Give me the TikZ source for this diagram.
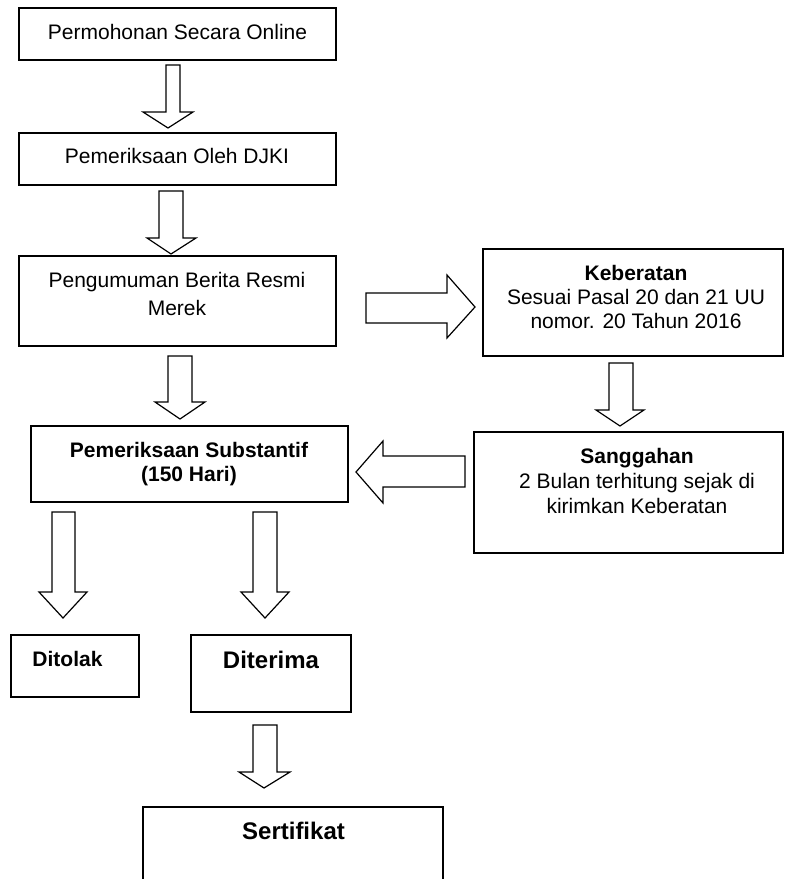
\documentclass[tikz,border=0pt]{standalone}
\usepackage{fontspec}
\setmainfont{Liberation Sans}
\begin{document}
\begin{tikzpicture}[x=1pt,y=-1pt,
  box/.style={draw=black,line width=1.2pt,inner sep=0pt},
  txt/.style={inner sep=0pt,anchor=base,font=\fontsize{21}{24}\selectfont},
  btxt/.style={txt,font=\fontsize{21}{24}\selectfont\bfseries},
  big/.style={txt,font=\fontsize{24}{28}\selectfont\bfseries},
  blk/.style={draw=black,line width=1.2pt,fill=white,line join=miter}]
\useasboundingbox (0,0) rectangle (785,879);
\clip (0,0) rectangle (785,879);
% boxes
\node[box,minimum width=317pt,minimum height=52pt] (b1) at (177.5,34) {};
\node[box,minimum width=317pt,minimum height=52pt] (b2) at (177.5,159) {};
\node[box,minimum width=317pt,minimum height=90pt] (b3) at (177.5,301) {};
\node[box,minimum width=317pt,minimum height=76pt] (b4) at (189.5,464) {};
\node[box,minimum width=300pt,minimum height=107pt] (bk) at (633,302.5) {};
\node[box,minimum width=309pt,minimum height=121pt] (bs) at (628.5,492.5) {};
\node[box,minimum width=128pt,minimum height=62pt] (bt) at (75,666) {};
\node[box,minimum width=160pt,minimum height=77pt] (bd) at (271,673.5) {};
\node[box,minimum width=300pt,minimum height=120pt] (bc) at (293,867) {};
% texts
\node[txt] (t1) at (177.5,39) {Permohonan Secara Online};
\node[txt] (t2) at (177,163) {Pemeriksaan Oleh DJKI};
\node[txt] (t3a) at (177,287) {Pengumuman Berita Resmi};
\node[txt] (t3b) at (177,315) {Merek};
\node[btxt] (tka) at (636,280) {Keberatan};
\node[txt] (tkb) at (636,304) {Sesuai Pasal 20 dan 21 UU};
\node[txt] (tkc) at (636,328) {nomor. 20 Tahun 2016};
\node[btxt] (tsa) at (637,463) {Sanggahan};
\node[txt] (tsb) at (637,488) {2 Bulan terhitung sejak di};
\node[txt] (tsc) at (637,513) {kirimkan Keberatan};
\node[btxt] (t4a) at (189,457) {Pemeriksaan Substantif};
\node[btxt] (t4b) at (189,481) {(150 Hari)};
\node[btxt] (tt) at (67.5,666) {Ditolak};
\node[big] (td) at (271,668) {Diterima};
\node[big] (tc) at (293.5,839) {Sertifikat};
% block arrows
\draw[blk] (166,65) -- (180,65) -- (180,112) -- (193,112) -- (168,128) -- (143,112) -- (166,112) -- cycle;
\draw[blk] (159,191) -- (183,191) -- (183,238) -- (196,238) -- (171,254) -- (147,238) -- (159,238) -- cycle;
\draw[blk] (168,356) -- (192,356) -- (192,402) -- (205,402) -- (180,419) -- (155,402) -- (168,402) -- cycle;
\draw[blk] (366,293) -- (447,293) -- (447,275) -- (475,307) -- (447,338) -- (447,323) -- (366,323) -- cycle;
\draw[blk] (609,363) -- (633,363) -- (633,410) -- (644,410) -- (620,426) -- (596,410) -- (609,410) -- cycle;
\draw[blk] (465,456) -- (383,456) -- (383,441) -- (356,472) -- (383,503) -- (383,487) -- (465,487) -- cycle;
\draw[blk] (52,512) -- (75,512) -- (75,592) -- (87,592) -- (63,618) -- (39,592) -- (52,592) -- cycle;
\draw[blk] (253,512) -- (277,512) -- (277,592) -- (289,592) -- (265,618) -- (241,592) -- (253,592) -- cycle;
\draw[blk] (253,725) -- (277,725) -- (277,772) -- (290,772) -- (264,788) -- (239,772) -- (253,772) -- cycle;
\end{tikzpicture}
\end{document}
